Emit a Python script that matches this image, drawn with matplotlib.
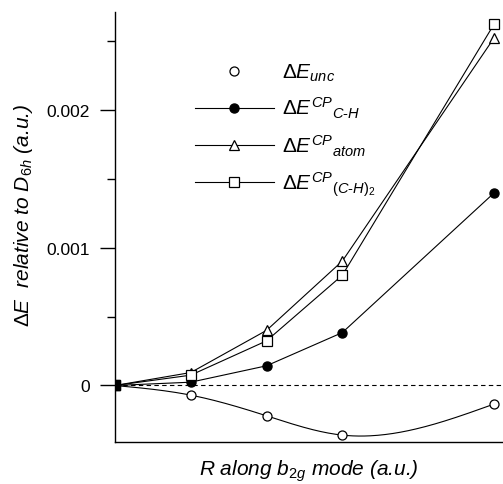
import numpy as np
import matplotlib
matplotlib.use('Agg')
import matplotlib.pyplot as plt
from matplotlib.ticker import MultipleLocator

plt.rcParams['font.family'] = ['Liberation Sans', 'DejaVu Sans']
plt.rcParams['mathtext.fontset'] = 'custom'
plt.rcParams['mathtext.rm'] = 'Liberation Sans'
plt.rcParams['mathtext.it'] = 'Liberation Sans:italic'
plt.rcParams['mathtext.sf'] = 'Liberation Sans'

# displacement along the b2g mode
r = [0, 1, 2, 3, 5]
# energies relative to D6h (a.u.)
e_unc = [0.0, -0.00007, -0.00022, -0.00036, -0.000135]
e_cp_ch = [0.0, 0.000024, 0.000143, 0.000384, 0.001396]
e_cp_atom = [0.0, 0.000094, 0.0004, 0.000903, 0.00252]
e_cp_ch2 = [0.0, 0.000075, 0.000324, 0.0008, 0.00262]


def natural_spline(x, y, n=200):
    # natural cubic spline through the points, only for drawing a smooth line
    x = np.asarray(x, float)
    y = np.asarray(y, float)
    k = len(x)
    h = np.diff(x)
    A = np.zeros((k, k))
    b = np.zeros(k)
    A[0, 0] = A[-1, -1] = 1
    for i in range(1, k - 1):
        A[i, i - 1] = h[i - 1]
        A[i, i] = 2 * (h[i - 1] + h[i])
        A[i, i + 1] = h[i]
        b[i] = 6 * ((y[i + 1] - y[i]) / h[i] - (y[i] - y[i - 1]) / h[i - 1])
    m = np.linalg.solve(A, b)
    xs = np.linspace(x[0], x[-1], n)
    idx = np.clip(np.searchsorted(x, xs) - 1, 0, k - 2)
    x0, x1 = x[idx], x[idx + 1]
    hh = x1 - x0
    t0, t1 = x1 - xs, xs - x0
    ys = (m[idx] * t0**3 / (6 * hh) + m[idx + 1] * t1**3 / (6 * hh)
          + (y[idx] / hh - m[idx] * hh / 6) * t0
          + (y[idx + 1] / hh - m[idx + 1] * hh / 6) * t1)
    return xs, ys


fig = plt.figure(figsize=(5.03, 4.85), dpi=100)
ax = fig.add_axes([0.2286, 0.0866, 0.7714, 0.8866])

ax.axhline(0, color='k', lw=0.8, ls=(0, (4, 3)))

lw = 0.8
ms = 6.5
xs, ys = natural_spline(r, e_unc)
ax.plot(xs, ys, color='k', lw=lw)
ax.plot(r, e_unc, 'o', mfc='white', mec='k', ms=ms, mew=0.9, label=r'$\Delta E_{unc}$')
ax.plot(r, e_cp_ch, '-o', color='k', mfc='k', mec='k', lw=lw, ms=ms,
        label=r'$\Delta E^{CP}{}_{C\text{-}H}$')
ax.plot(r, e_cp_atom, '-^', color='k', mfc='white', mec='k', lw=lw, ms=ms, mew=0.9,
        label=r'$\Delta E^{CP}{}_{atom}$')
ax.plot(r, e_cp_ch2, '-s', color='k', mfc='white', mec='k', lw=lw, ms=ms, mew=0.9,
        label=r'$\Delta E^{CP}{}_{(C\text{-}H)_2}$')
ax.plot(r[:1], e_cp_ch2[:1], 's', mfc='k', mec='k', ms=ms + 1)

ax.set_xlim(0, 5.12)
ax.set_ylim(-0.00041, 0.00271)
ax.spines['top'].set_visible(False)
ax.spines['right'].set_visible(False)
ax.spines['left'].set_linewidth(1.0)
ax.spines['bottom'].set_linewidth(1.0)
ax.set_xticks([])
ax.yaxis.set_major_locator(MultipleLocator(0.001))
ax.yaxis.set_minor_locator(MultipleLocator(0.0005))
ax.set_yticks([0, 0.001, 0.002])
ax.set_yticklabels(['0', '0.001', '0.002'])
ax.tick_params(axis='y', which='major', length=11, width=1, labelsize=12.5, pad=7)
ax.tick_params(axis='y', which='minor', length=6, width=1)

ax.set_xlabel(r'R along b$_{2g}$ mode (a.u.)', fontsize=15, style='italic', labelpad=11)
ax.set_ylabel(r'$\Delta E$  relative to D$_{6h}$ (a.u.)', fontsize=15, style='italic')
ax.yaxis.set_label_coords(-0.206, 0.53)

ax.legend(loc='upper left', bbox_to_anchor=(0.205, 0.884), frameon=False, fontsize=15,
          handlelength=3.8, handletextpad=0.4, labelspacing=0.58, borderpad=0,
          borderaxespad=0)

fig.savefig('out.png', dpi=100)
